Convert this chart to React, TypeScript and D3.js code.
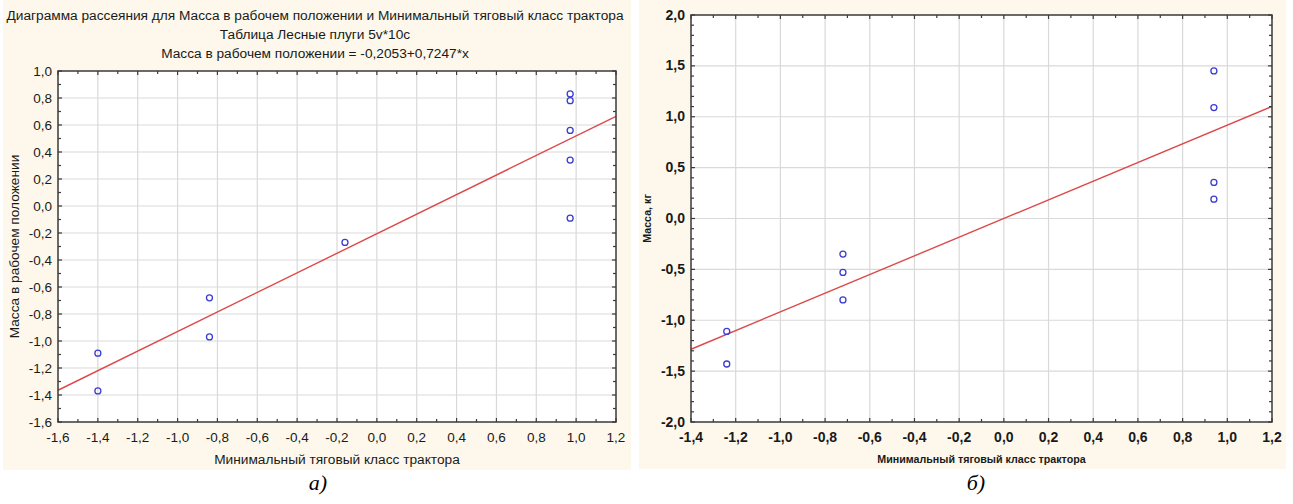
import { useEffect, useRef } from "react";
import * as d3 from "d3";

// panel a) — raw values
const xValuesA = [-1.4, -1.4, -0.84, -0.84, -0.16, 0.97, 0.97, 0.97, 0.97, 0.97];
const yValuesA = [-1.09, -1.37, -0.68, -0.97, -0.27, 0.83, 0.78, 0.56, 0.34, -0.09];
const fitA = [-0.2053, 0.7247]; // intercept, slope
const xTicksA = [-1.6, -1.4, -1.2, -1.0, -0.8, -0.6, -0.4, -0.2, 0.0, 0.2, 0.4, 0.6, 0.8, 1.0, 1.2];
const yTicksA = [-1.6, -1.4, -1.2, -1.0, -0.8, -0.6, -0.4, -0.2, 0.0, 0.2, 0.4, 0.6, 0.8, 1.0];

// panel б) — standardized values
const xValuesB = [-1.24, -1.24, -0.72, -0.72, -0.72, 0.94, 0.94, 0.94, 0.94];
const yValuesB = [-1.11, -1.43, -0.35, -0.53, -0.8, 1.45, 1.09, 0.355, 0.19];
const fitB = [0.0, 0.918];
const xTicksB = [-1.4, -1.2, -1.0, -0.8, -0.6, -0.4, -0.2, 0.0, 0.2, 0.4, 0.6, 0.8, 1.0, 1.2];
const yTicksB = [-2.0, -1.5, -1.0, -0.5, 0.0, 0.5, 1.0, 1.5, 2.0];

const titleLines = [
  "Диаграмма рассеяния для Масса в рабочем положении и Минимальный тяговый класс трактора",
  "Таблица Лесные плуги 5v*10c",
  "Масса в рабочем положении = -0,2053+0,7247*x",
];

const W = 1293;
const H = 504;
const FONT = "'Liberation Sans', Arial, sans-serif";
const fmt = d3
  .formatLocale({ decimal: ",", thousands: " ", grouping: [3], currency: ["", ""], minus: "-" })
  .format(".1f");

interface PanelCfg {
  bg: [number, number, number, number];
  box: { left: number; right: number; top: number; bottom: number };
  xs: number[];
  ys: number[];
  fit: number[];
  xTicks: number[];
  yTicks: number[];
  yMinorStep: number;
  tickSize: number;
  tickWeight: string;
  yLabel: string;
  yLabelX: number;
  xLabel: string;
  xLabelY: number;
  labelSize: number;
  labelWeight: string;
}

function drawPanel(svg: d3.Selection<SVGSVGElement, unknown, null, undefined>, c: PanelCfg) {
  const g = svg.append("g");
  const { left, right, top, bottom } = c.box;
  const xDom = d3.extent(c.xTicks) as [number, number];
  const yDom = d3.extent(c.yTicks) as [number, number];
  const x = d3.scaleLinear().domain(xDom).range([left, right]);
  const y = d3.scaleLinear().domain(yDom).range([bottom, top]);

  g.append("rect")
    .attr("x", c.bg[0]).attr("y", c.bg[1]).attr("width", c.bg[2]).attr("height", c.bg[3])
    .attr("fill", "#fdf8eb");
  g.append("rect")
    .attr("x", left).attr("y", top).attr("width", right - left).attr("height", bottom - top)
    .attr("fill", "#ffffff");

  // grid
  g.selectAll(".gx").data(c.xTicks.slice(1, -1)).join("line")
    .attr("x1", (d) => x(d)).attr("x2", (d) => x(d)).attr("y1", top).attr("y2", bottom)
    .attr("stroke", "#d9d9d9").attr("stroke-width", 1.2);
  g.selectAll(".gy").data(c.yTicks.slice(1, -1)).join("line")
    .attr("y1", (d) => y(d)).attr("y2", (d) => y(d)).attr("x1", left).attr("x2", right)
    .attr("stroke", "#d9d9d9").attr("stroke-width", 1.2);

  // regression line
  const line = d3.line<number>().x((d) => x(d)).y((d) => y(c.fit[0] + c.fit[1] * d));
  g.append("path").datum(xDom).attr("d", line).attr("fill", "none")
    .attr("stroke", "#dd4a4a").attr("stroke-width", 1.4);

  // points
  g.selectAll(".pt").data(c.xs).join("circle")
    .attr("cx", (d) => x(d)).attr("cy", (_, i) => y(c.ys[i])).attr("r", 3)
    .attr("fill", "none").attr("stroke", "#3c3cd2").attr("stroke-width", 1.3);

  // frame
  g.append("rect")
    .attr("x", left).attr("y", top).attr("width", right - left).attr("height", bottom - top)
    .attr("fill", "none").attr("stroke", "#3a3a3a").attr("stroke-width", 1.5);

  // inward ticks, major + minor
  const xMinor = d3.range(Math.round(xDom[0] * 10), Math.round(xDom[1] * 10) + 1).map((d) => d / 10);
  const yMinN = Math.round(yDom[0] / c.yMinorStep);
  const yMaxN = Math.round(yDom[1] / c.yMinorStep);
  const yMinor = d3.range(yMinN, yMaxN + 1).map((d) => d * c.yMinorStep);
  const isMajor = (v: number, ticks: number[]) => ticks.some((t) => Math.abs(t - v) < 1e-6);
  const tk = g.append("g").attr("stroke", "#3a3a3a").attr("stroke-width", 1.2);
  xMinor.forEach((v) => {
    const len = isMajor(v, c.xTicks) ? 4 : 3;
    tk.append("line").attr("x1", x(v)).attr("x2", x(v)).attr("y1", bottom).attr("y2", bottom - len);
    tk.append("line").attr("x1", x(v)).attr("x2", x(v)).attr("y1", top).attr("y2", top + len);
  });
  yMinor.forEach((v) => {
    const len = isMajor(v, c.yTicks) ? 4 : 3;
    tk.append("line").attr("y1", y(v)).attr("y2", y(v)).attr("x1", left).attr("x2", left + len);
    tk.append("line").attr("y1", y(v)).attr("y2", y(v)).attr("x1", right).attr("x2", right - len);
  });

  // tick labels
  g.selectAll(".xl").data(c.xTicks).join("text")
    .attr("x", (d) => x(d)).attr("y", bottom + 20)
    .attr("text-anchor", "middle").attr("font-family", FONT).attr("font-size", c.tickSize)
    .attr("font-weight", c.tickWeight).attr("fill", "#1a1a1a").text((d) => fmt(d));
  g.selectAll(".yl").data(c.yTicks).join("text")
    .attr("x", left - 6).attr("y", (d) => y(d) + 4.5)
    .attr("text-anchor", "end").attr("font-family", FONT).attr("font-size", c.tickSize)
    .attr("font-weight", c.tickWeight).attr("fill", "#1a1a1a").text((d) => fmt(d));

  // axis titles
  g.append("text")
    .attr("transform", `translate(${c.yLabelX},${(top + bottom) / 2}) rotate(-90)`)
    .attr("text-anchor", "middle").attr("font-family", FONT).attr("font-size", c.labelSize)
    .attr("font-weight", c.labelWeight).attr("fill", "#1a1a1a").text(c.yLabel);
  g.append("text")
    .attr("x", (left + right) / 2).attr("y", c.xLabelY)
    .attr("text-anchor", "middle").attr("font-family", FONT).attr("font-size", c.labelSize)
    .attr("font-weight", c.labelWeight).attr("fill", "#1a1a1a").text(c.xLabel);
}

function App() {
  const svgRef = useRef<SVGSVGElement | null>(null);

  useEffect(() => {
    if (!svgRef.current) return;
    const svg = d3.select(svgRef.current);
    svg.selectAll("*").remove();

    svg.append("rect").attr("width", W).attr("height", H).attr("fill", "#ffffff");

    drawPanel(svg, {
      bg: [3, 0, 628, 470],
      box: { left: 58, right: 616, top: 71, bottom: 422 },
      xs: xValuesA,
      ys: yValuesA,
      fit: fitA,
      xTicks: xTicksA,
      yTicks: yTicksA,
      yMinorStep: 0.1,
      tickSize: 13.5,
      tickWeight: "normal",
      yLabel: "Масса в рабочем положении",
      yLabelX: 19,
      xLabel: "Минимальный тяговый класс трактора",
      xLabelY: 464,
      labelSize: 13.7,
      labelWeight: "normal",
    });

    drawPanel(svg, {
      bg: [639, 0, 647, 469],
      box: { left: 691, right: 1272, top: 15, bottom: 422 },
      xs: xValuesB,
      ys: yValuesB,
      fit: fitB,
      xTicks: xTicksB,
      yTicks: yTicksB,
      yMinorStep: 0.1,
      tickSize: 14,
      tickWeight: "bold",
      yLabel: "Масса, кг",
      yLabelX: 651,
      xLabel: "Минимальный тяговый класс трактора",
      xLabelY: 463,
      labelSize: 10.7,
      labelWeight: "bold",
    });

    // title of panel a
    svg.append("g").selectAll("text").data(titleLines).join("text")
      .attr("x", 315).attr("y", (_, i) => 20 + i * 19)
      .attr("text-anchor", "middle").attr("font-family", FONT)
      .attr("font-size", 13.7).attr("fill", "#1a1a1a").text((d) => d);

    // captions
    const captions = [
      { t: "а)", x: 318 },
      { t: "б)", x: 976 },
    ];
    svg.append("g").selectAll("text").data(captions).join("text")
      .attr("x", (d) => d.x).attr("y", 490)
      .attr("text-anchor", "middle").attr("font-family", "'Liberation Serif', 'Times New Roman', serif")
      .attr("font-style", "italic").attr("font-size", 22).attr("fill", "#000").text((d) => d.t);
  }, []);

  return (
    <svg
      ref={svgRef}
      width={W}
      height={H}
      style={{ position: "absolute", left: 0, top: 0, display: "block" }}
    />
  );
}

export default App;
